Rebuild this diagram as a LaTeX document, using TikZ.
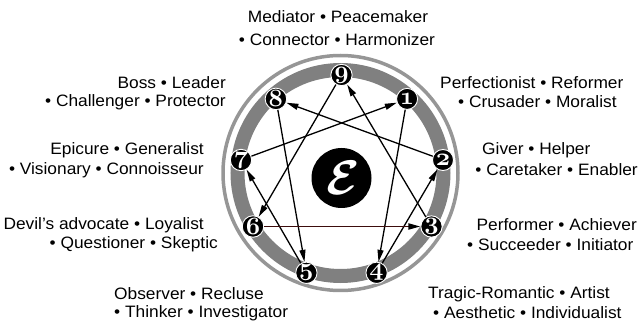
\documentclass[tikz,border=0pt]{standalone}
\usepackage{fontspec}
\setmainfont[FakeStretch=1.05]{Liberation Sans}
\usetikzlibrary{arrows.meta}
\newcommand{\mynum}[1]{{\fontencoding{OML}\fontfamily{cmm}\fontseries{b}\fontshape{it}\selectfont #1}}
\newcommand{\calE}{\scalebox{1.95}{\fontencoding{OMS}\fontfamily{cmsy}\fontseries{b}\fontshape{n}\fontsize{24.88}{30}\selectfont E}}
\definecolor{ringdark}{RGB}{128,128,128}
\definecolor{ringlight}{RGB}{150,150,150}
\definecolor{darkred}{RGB}{60,12,12}
\begin{document}
\begin{tikzpicture}[x=1pt,y=-1pt,
  num/.style={circle, fill=black, draw=white, line width=0.9pt, minimum size=21pt, inner sep=0pt, text=white, font=\fontsize{24.88}{25}\selectfont},
  arr/.style={line width=1.3pt, -{Triangle[length=12pt,width=6pt]}},
  lbl/.style={font=\fontsize{16.5}{20}\selectfont, inner sep=0pt},
  lw/.style={lbl, anchor=west},
  le/.style={lbl, anchor=east},
  lc/.style={lbl, anchor=center}]
\useasboundingbox (0,0) rectangle (641,326);
% rings
\draw[ringlight, line width=3.5pt] (340.5,173) circle (117.5);
\draw[ringdark, line width=14pt] (340.5,173) circle (103);
% centre
\node[circle, fill=black, minimum size=60pt, inner sep=0pt, text=white] (E) at (341.5,178) {\calE};
% points
\node[num] (p9) at (341.5,75) {\mynum{9}};
\node[num] (p1) at (407.1,98.9) {\mynum{1}};
\node[num] (p2) at (443,160) {\mynum{2}};
\node[num] (p3) at (431.5,226.5) {\mynum{3}};
\node[num] (p4) at (376.6,272.8) {\mynum{4}};
\node[num] (p5) at (306.4,272.8) {\mynum{5}};
\node[num] (p6) at (253,226.5) {\mynum{6}};
\node[num] (p7) at (241,160) {\mynum{7}};
\node[num] (p8) at (275.9,98.9) {\mynum{8}};
% arrows
\draw[arr] (p1) -- (p4);
\draw[arr] (p4) -- (p2);
\draw[arr] (p2) -- (p8);
\draw[arr] (p8) -- (p5);
\draw[arr] (p5) -- (p7);
\draw[arr] (p7) -- (p1);
\draw[arr] (p3) -- (p9);
\draw[arr] (p9) -- (p6);
\draw[line width=1.8pt, darkred, -{Triangle[length=12pt,width=6pt,color=black]}] (p6) -- (p3);
% labels
\node[lc] (t9a) at (338,17) {Mediator • Peacemaker};
\node[lc] (t9b) at (337,40) {• Connector • Harmonizer};
\node[le] (t8a) at (226,83) {Boss • Leader};
\node[le] (t8b) at (226,102) {• Challenger • Protector};
\node[le] (t7a) at (204,150) {Epicure • Generalist};
\node[le] (t7b) at (204,170) {• Visionary • Connoisseur};
\node[le] (t6a) at (204,225) {Devil’s advocate • Loyalist};
\node[le] (t6b) at (218,244) {• Questioner • Skeptic};
\node[lw] (t5a) at (114,294) {Observer • Recluse};
\node[lw] (t5b) at (114,313) {• Thinker • Investigator};
\node[lw] (t1a) at (440,83) {Perfectionist • Reformer};
\node[lw] (t1b) at (458,102) {• Crusader • Moralist};
\node[lw] (t2a) at (482,150) {Giver • Helper};
\node[le] (t2b) at (638,170) {• Caretaker • Enabler};
\node[le] (t3a) at (637,225) {Performer • Achiever};
\node[lw] (t3b) at (467,245) {• Succeeder • Initiator};
\node[lw] (t4a) at (428,294) {Tragic-Romantic • Artist};
\node[lw] (t4b) at (433,313) {• Aesthetic • Individualist};
\end{tikzpicture}
\end{document}
